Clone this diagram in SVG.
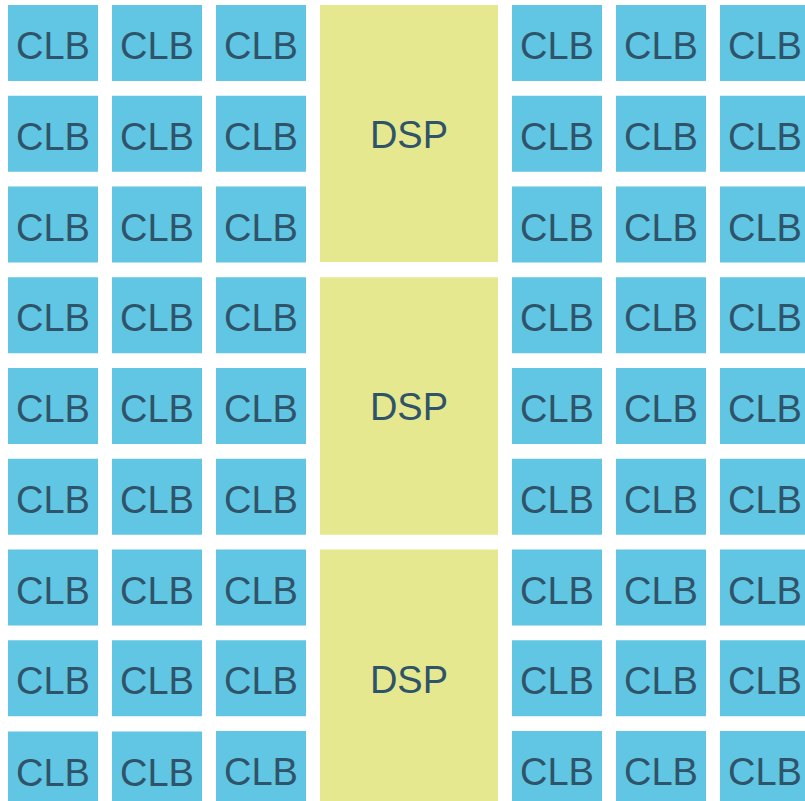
<svg xmlns="http://www.w3.org/2000/svg" width="805" height="801" viewBox="0 0 805 801">
<style>
.clb{fill:#61C6E3}
.dsp{fill:#E5E88F}
text{font-family:"Liberation Sans",Arial,sans-serif;font-size:38px;fill:#2F5469;text-anchor:middle}
</style>
<rect width="805" height="801" fill="#FFFFFF"/>
<g id="dsp-1" transform="translate(320,5)"><rect class="dsp" width="178" height="257"/><text x="89" y="143">DSP</text></g>
<g id="dsp-2" transform="translate(320,277.25)"><rect class="dsp" width="178" height="257.5"/><text x="89" y="143">DSP</text></g>
<g id="dsp-3" transform="translate(320,549.5)"><rect class="dsp" width="178" height="258"/><text x="89" y="143">DSP</text></g>
<g id="clb-r1-c1" transform="translate(8,5)"><rect class="clb" width="90" height="76"/><text x="45" y="54">CLB</text></g>
<g id="clb-r1-c2" transform="translate(112,5)"><rect class="clb" width="90" height="76"/><text x="45" y="54">CLB</text></g>
<g id="clb-r1-c3" transform="translate(216,5)"><rect class="clb" width="90" height="76"/><text x="45" y="54">CLB</text></g>
<g id="clb-r1-c4" transform="translate(512,5)"><rect class="clb" width="90" height="76"/><text x="45" y="54">CLB</text></g>
<g id="clb-r1-c5" transform="translate(616,5)"><rect class="clb" width="90" height="76"/><text x="45" y="54">CLB</text></g>
<g id="clb-r1-c6" transform="translate(720,5)"><rect class="clb" width="90" height="76"/><text x="45" y="54">CLB</text></g>
<g id="clb-r2-c1" transform="translate(8,95.75)"><rect class="clb" width="90" height="76"/><text x="45" y="54">CLB</text></g>
<g id="clb-r2-c2" transform="translate(112,95.75)"><rect class="clb" width="90" height="76"/><text x="45" y="54">CLB</text></g>
<g id="clb-r2-c3" transform="translate(216,95.75)"><rect class="clb" width="90" height="76"/><text x="45" y="54">CLB</text></g>
<g id="clb-r2-c4" transform="translate(512,95.75)"><rect class="clb" width="90" height="76"/><text x="45" y="54">CLB</text></g>
<g id="clb-r2-c5" transform="translate(616,95.75)"><rect class="clb" width="90" height="76"/><text x="45" y="54">CLB</text></g>
<g id="clb-r2-c6" transform="translate(720,95.75)"><rect class="clb" width="90" height="76"/><text x="45" y="54">CLB</text></g>
<g id="clb-r3-c1" transform="translate(8,186.5)"><rect class="clb" width="90" height="76"/><text x="45" y="54">CLB</text></g>
<g id="clb-r3-c2" transform="translate(112,186.5)"><rect class="clb" width="90" height="76"/><text x="45" y="54">CLB</text></g>
<g id="clb-r3-c3" transform="translate(216,186.5)"><rect class="clb" width="90" height="76"/><text x="45" y="54">CLB</text></g>
<g id="clb-r3-c4" transform="translate(512,186.5)"><rect class="clb" width="90" height="76"/><text x="45" y="54">CLB</text></g>
<g id="clb-r3-c5" transform="translate(616,186.5)"><rect class="clb" width="90" height="76"/><text x="45" y="54">CLB</text></g>
<g id="clb-r3-c6" transform="translate(720,186.5)"><rect class="clb" width="90" height="76"/><text x="45" y="54">CLB</text></g>
<g id="clb-r4-c1" transform="translate(8,277.25)"><rect class="clb" width="90" height="76"/><text x="45" y="54">CLB</text></g>
<g id="clb-r4-c2" transform="translate(112,277.25)"><rect class="clb" width="90" height="76"/><text x="45" y="54">CLB</text></g>
<g id="clb-r4-c3" transform="translate(216,277.25)"><rect class="clb" width="90" height="76"/><text x="45" y="54">CLB</text></g>
<g id="clb-r4-c4" transform="translate(512,277.25)"><rect class="clb" width="90" height="76"/><text x="45" y="54">CLB</text></g>
<g id="clb-r4-c5" transform="translate(616,277.25)"><rect class="clb" width="90" height="76"/><text x="45" y="54">CLB</text></g>
<g id="clb-r4-c6" transform="translate(720,277.25)"><rect class="clb" width="90" height="76"/><text x="45" y="54">CLB</text></g>
<g id="clb-r5-c1" transform="translate(8,368)"><rect class="clb" width="90" height="76"/><text x="45" y="54">CLB</text></g>
<g id="clb-r5-c2" transform="translate(112,368)"><rect class="clb" width="90" height="76"/><text x="45" y="54">CLB</text></g>
<g id="clb-r5-c3" transform="translate(216,368)"><rect class="clb" width="90" height="76"/><text x="45" y="54">CLB</text></g>
<g id="clb-r5-c4" transform="translate(512,368)"><rect class="clb" width="90" height="76"/><text x="45" y="54">CLB</text></g>
<g id="clb-r5-c5" transform="translate(616,368)"><rect class="clb" width="90" height="76"/><text x="45" y="54">CLB</text></g>
<g id="clb-r5-c6" transform="translate(720,368)"><rect class="clb" width="90" height="76"/><text x="45" y="54">CLB</text></g>
<g id="clb-r6-c1" transform="translate(8,458.75)"><rect class="clb" width="90" height="76"/><text x="45" y="54">CLB</text></g>
<g id="clb-r6-c2" transform="translate(112,458.75)"><rect class="clb" width="90" height="76"/><text x="45" y="54">CLB</text></g>
<g id="clb-r6-c3" transform="translate(216,458.75)"><rect class="clb" width="90" height="76"/><text x="45" y="54">CLB</text></g>
<g id="clb-r6-c4" transform="translate(512,458.75)"><rect class="clb" width="90" height="76"/><text x="45" y="54">CLB</text></g>
<g id="clb-r6-c5" transform="translate(616,458.75)"><rect class="clb" width="90" height="76"/><text x="45" y="54">CLB</text></g>
<g id="clb-r6-c6" transform="translate(720,458.75)"><rect class="clb" width="90" height="76"/><text x="45" y="54">CLB</text></g>
<g id="clb-r7-c1" transform="translate(8,549.5)"><rect class="clb" width="90" height="76"/><text x="45" y="54">CLB</text></g>
<g id="clb-r7-c2" transform="translate(112,549.5)"><rect class="clb" width="90" height="76"/><text x="45" y="54">CLB</text></g>
<g id="clb-r7-c3" transform="translate(216,549.5)"><rect class="clb" width="90" height="76"/><text x="45" y="54">CLB</text></g>
<g id="clb-r7-c4" transform="translate(512,549.5)"><rect class="clb" width="90" height="76"/><text x="45" y="54">CLB</text></g>
<g id="clb-r7-c5" transform="translate(616,549.5)"><rect class="clb" width="90" height="76"/><text x="45" y="54">CLB</text></g>
<g id="clb-r7-c6" transform="translate(720,549.5)"><rect class="clb" width="90" height="76"/><text x="45" y="54">CLB</text></g>
<g id="clb-r8-c1" transform="translate(8,640.25)"><rect class="clb" width="90" height="76"/><text x="45" y="54">CLB</text></g>
<g id="clb-r8-c2" transform="translate(112,640.25)"><rect class="clb" width="90" height="76"/><text x="45" y="54">CLB</text></g>
<g id="clb-r8-c3" transform="translate(216,640.25)"><rect class="clb" width="90" height="76"/><text x="45" y="54">CLB</text></g>
<g id="clb-r8-c4" transform="translate(512,640.25)"><rect class="clb" width="90" height="76"/><text x="45" y="54">CLB</text></g>
<g id="clb-r8-c5" transform="translate(616,640.25)"><rect class="clb" width="90" height="76"/><text x="45" y="54">CLB</text></g>
<g id="clb-r8-c6" transform="translate(720,640.25)"><rect class="clb" width="90" height="76"/><text x="45" y="54">CLB</text></g>
<g id="clb-r9-c1" transform="translate(8,731.5)"><rect class="clb" width="90" height="76"/><text x="45" y="54">CLB</text></g>
<g id="clb-r9-c2" transform="translate(112,731.5)"><rect class="clb" width="90" height="76"/><text x="45" y="54">CLB</text></g>
<g id="clb-r9-c3" transform="translate(216,731)"><rect class="clb" width="90" height="76"/><text x="45" y="54">CLB</text></g>
<g id="clb-r9-c4" transform="translate(512,731)"><rect class="clb" width="90" height="76"/><text x="45" y="54">CLB</text></g>
<g id="clb-r9-c5" transform="translate(616,731)"><rect class="clb" width="90" height="76"/><text x="45" y="54">CLB</text></g>
<g id="clb-r9-c6" transform="translate(720,731)"><rect class="clb" width="90" height="76"/><text x="45" y="54">CLB</text></g>
</svg>
